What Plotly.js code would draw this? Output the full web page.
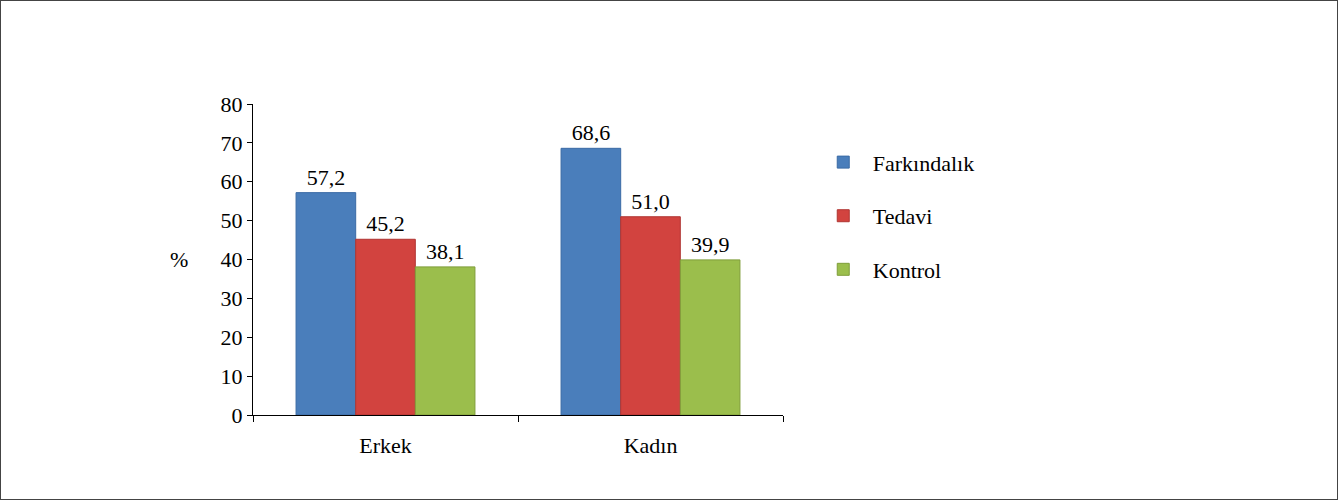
<!DOCTYPE html>
<html>
<head>
<meta charset="utf-8">
<script src="https://cdn.plot.ly/plotly-3.0.1.min.js"></script>
<style>
html,body{margin:0;padding:0;background:#fff;}
#chart{width:1338px;height:500px;box-sizing:border-box;border:1px solid #444;}
</style>
</head>
<body>
<div id="chart"></div>
<script>
const categories = ["Erkek", "Kadın"];
const seriesNames = ["Farkındalık", "Tedavi", "Kontrol"];
const farkindalik = [57.2, 68.6];
const tedavi = [45.2, 51.0];
const kontrol = [38.1, 39.9];
const yTicks = [0, 10, 20, 30, 40, 50, 60, 70, 80];

const colors = ["#4a7ebb", "#d2433f", "#9bbe4c"];
const lineColors = ["#3a6aa5", "#b03532", "#7f9e3a"];
const fmt = v => v.toFixed(1).replace(".", ",");
const serif = "'Liberation Serif', 'Times New Roman', 'DejaVu Serif', serif";
const FS = 22;

const data = [farkindalik, tedavi, kontrol].map((vals, i) => ({
  type: "bar",
  name: seriesNames[i],
  x: categories,
  y: vals,
  text: vals.map(fmt),
  textposition: "outside",
  cliponaxis: false,
  textfont: {family: serif, size: FS, color: "#000"},
  legendgroup: "g" + i,
  marker: {color: colors[i], line: {color: lineColors[i], width: 1}},
  hoverinfo: "skip"
}));

const layout = {
  width: 1336, height: 498,
  margin: {l: 252, r: 554, t: 103, b: 84},
  paper_bgcolor: "#fff",
  plot_bgcolor: "#fff",
  barmode: "group",
  bargap: 0.325,
  bargroupgap: 0,
  font: {family: serif, size: FS, color: "#000"},
  showlegend: true,
  legend: {
    x: 1.058, xref: "paper", xanchor: "left", y: 0.88, yanchor: "top",
    traceorder: "grouped",
    tracegroupgap: 22,
    font: {family: serif, size: FS, color: "#000"},
    itemwidth: 49,
    bgcolor: "rgba(0,0,0,0)"
  },
  xaxis: {
    type: "category",
    showline: true, linecolor: "#000", linewidth: 1,
    ticks: "outside", tickson: "boundaries", ticklen: 6, tickcolor: "#000",
    ticklabelstandoff: 11,
    showgrid: false, zeroline: false,
    tickfont: {family: serif, size: FS, color: "#000"},
    fixedrange: true
  },
  yaxis: {
    range: [0, 80],
    tickvals: yTicks,
    showline: true, linecolor: "#000", linewidth: 1,
    ticks: "outside", ticklen: 5, tickcolor: "#000",
    showgrid: false, zeroline: false,
    tickfont: {family: serif, size: FS, color: "#000"},
    fixedrange: true
  },
  annotations: [{
    text: "%", xref: "paper", yref: "y", x: -0.14, y: 40,
    xanchor: "center", yanchor: "middle", showarrow: false,
    font: {family: serif, size: FS, color: "#000"}
  }]
};

Plotly.newPlot("chart", data, layout, {displayModeBar: false, staticPlot: true});
</script>
</body>
</html>
